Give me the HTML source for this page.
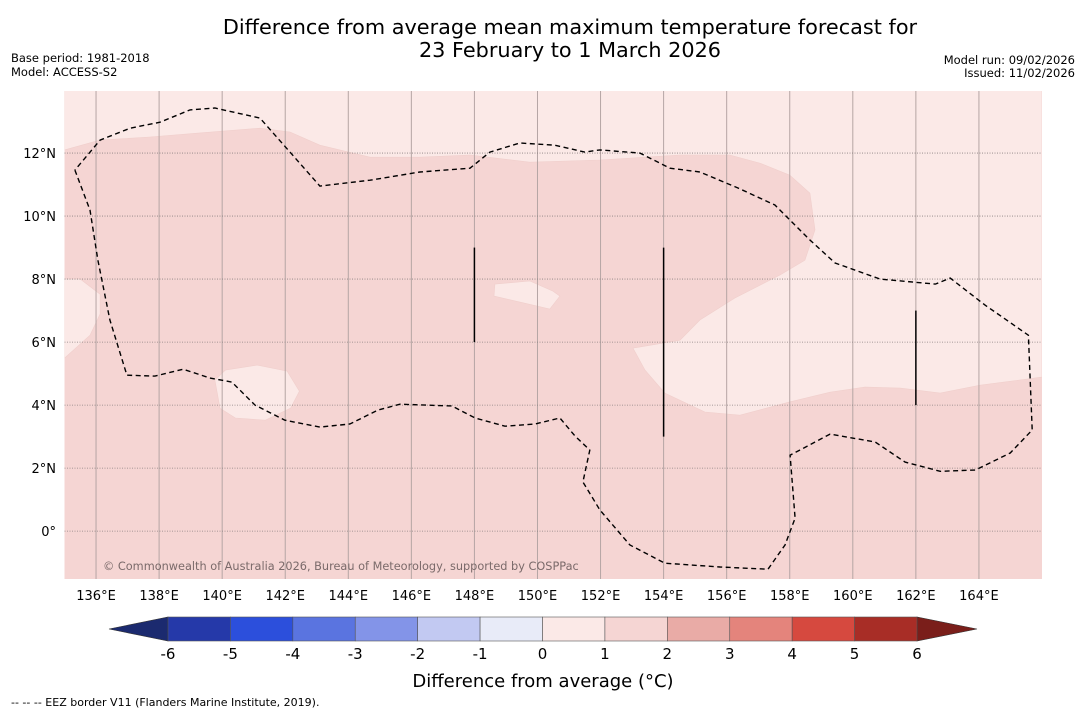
<!DOCTYPE html>
<html><head><meta charset="utf-8"><style>
body{margin:0;background:#fff;width:1085px;height:713px;overflow:hidden;font-family:"DejaVu Sans","Liberation Sans",sans-serif}
svg{position:absolute;left:0;top:0}
</style></head><body>
<svg id="c" width="1085" height="713"></svg>
<script>
const lonTicks=[136,138,140,142,144,146,148,150,152,154,156,158,160,162,164];
const latTicks=[0,2,4,6,8,10,12];
const cbLevels=[-6,-5,-4,-3,-2,-1,0,1,2,3,4,5,6];
const cbColors=["#2539a9","#2c4fdc","#5a74e0","#8394e8","#c2c9f2","#e8ebf8","#fbe9e7","#f5d5d3","#e9aba6","#e4847c","#d6493f","#a82d26"];
const lightRegion=[[135,12.10],[136.13,12.41],[137.71,12.51],[139.3,12.64],[141.2,12.79],[142.15,12.67],[143.1,12.25],[144.69,11.87],[146.27,11.87],[147.86,11.94],[149.76,11.71],[151.98,11.78],[154.52,11.94],[156.1,11.94],[157.05,11.68],[158,11.3],[158.64,10.73],[158.8,9.56],[158.48,8.6],[157.69,8.13],[156.26,7.4],[155.15,6.7],[154.52,6.06],[153.03,5.81],[153.41,5.11],[154.04,4.38],[155.31,3.78],[156.42,3.68],[158,4.1],[159.28,4.41],[160.39,4.57],[161.5,4.54],[162.77,4.38],[164.04,4.63],[166,4.89],[166,14],[135,14]];
const lightLeft=[[135,8],[135.5,8],[136.13,7.52],[136.13,6.89],[135.81,6.22],[135,5.49]];
const lightBlob=[[140.1,5.11],[141.11,5.27],[142.06,5.08],[142.45,4.44],[142.17,3.9],[141.37,3.52],[140.42,3.59],[139.93,3.9],[139.77,4.79]];
const lightSmall=[[148.65,7.84],[149.76,7.94],[150.49,7.62],[150.71,7.46],[150.39,7.05],[149.44,7.27],[148.62,7.46]];
const eez=[[135.33,11.46],[135.81,10.19],[136.06,8.6],[136.44,6.7],[136.98,4.95],[137.87,4.92],[138.76,5.14],[139.61,4.86],[140.31,4.73],[141.04,4.0],[141.99,3.52],[143.1,3.3],[144.05,3.4],[144.94,3.84],[145.64,4.03],[147.29,3.97],[148.02,3.59],[148.97,3.33],[149.92,3.4],[150.71,3.59],[151.19,3.02],[151.66,2.57],[151.44,1.56],[151.98,0.67],[152.93,-0.44],[154.04,-1.02],[155.79,-1.14],[157.31,-1.21],[157.85,-0.44],[158.17,0.41],[158.01,2.41],[159.28,3.08],[160.71,2.83],[161.66,2.19],[162.77,1.9],[163.89,1.94],[164.99,2.48],[165.69,3.21],[165.57,6.22],[164.2,7.17],[163.09,8.03],[162.62,7.84],[160.87,8.0],[159.44,8.51],[158.64,9.24],[157.53,10.35],[156.36,10.89],[155.15,11.4],[154.2,11.52],[153.25,12.0],[151.98,12.1],[151.5,12.03],[150.55,12.25],[149.44,12.32],[148.49,12.03],[147.86,11.52],[146.27,11.4],[144.69,11.14],[143.1,10.95],[142.15,12.03],[141.2,13.11],[139.77,13.43],[138.98,13.37],[138.03,12.98],[137.08,12.79],[136.13,12.41],[135.33,11.46]];
const segLon=[148,154,162];const segLat0=[6,3,4];const segLat1=[9,9,7];

const NS="http://www.w3.org/2000/svg";const svg=document.getElementById('c');
const X0=64.5,X1=1042,Y0=91,Y1=579,LON0=135,LON1=166,LAT0=-1.52,LAT1=13.97;
const x=l=>X0+(l-LON0)/(LON1-LON0)*(X1-X0);
const y=l=>Y1-(l-LAT0)/(LAT1-LAT0)*(Y1-Y0);
function el(t,a,p){const e=document.createElementNS(NS,t);for(const k in a)e.setAttribute(k,a[k]);(p||svg).appendChild(e);return e;}
function pts(a){return a.map(p=>x(p[0]).toFixed(1)+','+y(p[1]).toFixed(1)).join(' ');}
const defs=el('defs',{});const cp=el('clipPath',{id:'clip'},defs);el('rect',{x:X0,y:Y0,width:X1-X0,height:Y1-Y0},cp);
const g=el('g',{'clip-path':'url(#clip)'});
let r=el('rect',{x:X0,y:Y0,width:X1-X0,height:Y1-Y0,fill:'#f5d5d3'},g);

[[lightRegion,'light-region-north'],[lightLeft,'light-region-west'],[lightBlob,'light-region-blob'],[lightSmall,'light-region-small']].forEach(([a,n])=>{
 const p=el('polygon',{points:pts(a),fill:'#fbe9e7',stroke:'#f0cfcc','stroke-width':0.6},g);
 });
lonTicks.forEach(l=>{const ln=el('line',{x1:x(l),x2:x(l),y1:Y0,y2:Y1,stroke:'#b5a5a4','stroke-width':1},g);
 });
latTicks.forEach(l=>{const ln=el('line',{x1:X0,x2:X1,y1:y(l),y2:y(l),stroke:'#8a8080','stroke-width':0.8,'stroke-dasharray':'1,1.5'},g);
 });
const eezP=el('polyline',{points:pts(eez),fill:'none',stroke:'#000','stroke-width':1.4,'stroke-dasharray':'5,3.5'},g);

segLon.forEach((l,i)=>{const ln=el('line',{x1:x(l),x2:x(l),y1:y(segLat0[i]),y2:y(segLat1[i]),stroke:'#000','stroke-width':1.5},g);
 });
let t=el('text',{x:103,y:570,'font-size':11.3,fill:'#7a6a6a','font-family':'DejaVu Sans, sans-serif'},g);t.textContent='© Commonwealth of Australia 2026, Bureau of Meteorology, supported by COSPPac';

lonTicks.forEach(l=>{const tx=el('text',{x:x(l),y:600,'font-size':13,'text-anchor':'middle',fill:'#000'});tx.textContent=l+'°E';
 });
latTicks.forEach(l=>{const tx=el('text',{x:56,y:y(l)+5,'font-size':13,'text-anchor':'end',fill:'#000'});tx.textContent=l===0?'0°':l+'°N';
 });
const CB0=168,CB1=917,CBY=617,CBH=24;const cx=v=>CB0+(v-cbLevels[0])/(cbLevels[cbLevels.length-1]-cbLevels[0])*(CB1-CB0);
let tri=el('polygon',{points:`${CB0},${CBY} ${CB0},${CBY+CBH} 109,${CBY+CBH/2}`,fill:'#1b2a6f',stroke:'#333','stroke-width':0.6});

tri=el('polygon',{points:`${CB1},${CBY} ${CB1},${CBY+CBH} 977,${CBY+CBH/2}`,fill:'#7a1e1a',stroke:'#333','stroke-width':0.6});

cbColors.forEach((c,i)=>{const b=el('rect',{x:cx(cbLevels[i]),y:CBY,width:cx(cbLevels[i+1])-cx(cbLevels[i]),height:CBH,fill:c,stroke:'#555','stroke-width':0.6});
 });
cbLevels.forEach(v=>{const tx=el('text',{x:cx(v),y:659,'font-size':15,'text-anchor':'middle',fill:'#000'});tx.textContent=v;
 });
function txt(s,a,n){const e=el('text',Object.assign({fill:'#000'},a));e.textContent=s;return e;}
txt('Difference from average (°C)',{x:543,y:687,'font-size':18,'text-anchor':'middle'},'colorbar-title');
txt('Difference from average mean maximum temperature forecast for',{x:570,y:34,'font-size':20.8,'text-anchor':'middle'},'title-line-1');
txt('23 February to 1 March 2026',{x:570,y:57,'font-size':20.8,'text-anchor':'middle'},'title-line-2');
txt('Base period: 1981-2018',{x:11,y:62,'font-size':11.5},'base-period');
txt('Model: ACCESS-S2',{x:11,y:76,'font-size':11.5},'model-name');
txt('Model run: 09/02/2026',{x:1075,y:64,'font-size':11.5,'text-anchor':'end'},'model-run');
txt('Issued: 11/02/2026',{x:1075,y:77,'font-size':11.5,'text-anchor':'end'},'issued-date');
txt('--  --  -- EEZ border V11 (Flanders Marine Institute, 2019).',{x:11,y:706,'font-size':11,'xml:space':'preserve'},'eez-legend');
</script>
</body></html>
